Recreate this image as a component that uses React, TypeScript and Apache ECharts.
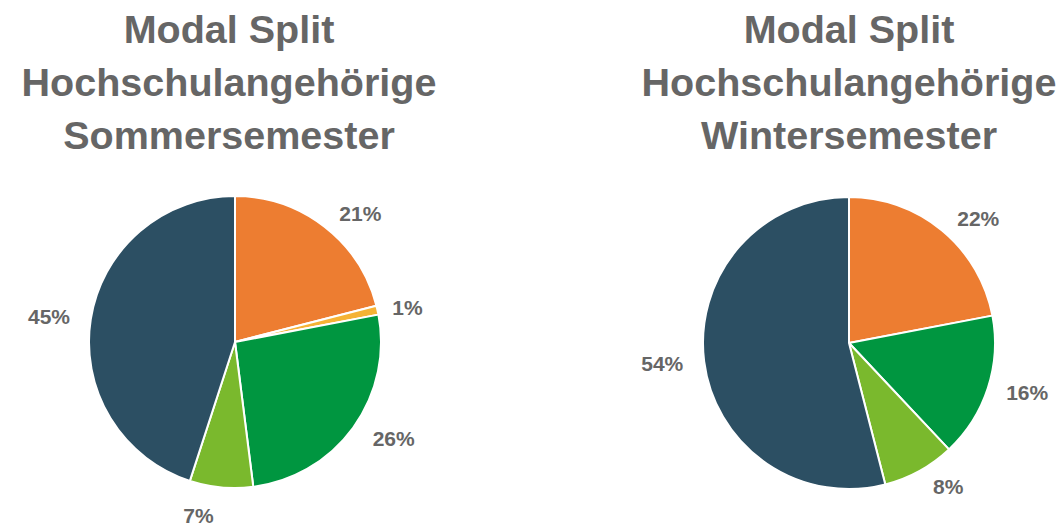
import React, { useEffect, useRef } from "react";
import * as echarts from "echarts";

const categoriesSummer = ["Rad", "Sonstiges", "ÖPNV", "Zu Fuß", "MIV"];
const valuesSummer = [21, 1, 26, 7, 45];
const categoriesWinter = ["Rad", "ÖPNV", "Zu Fuß", "MIV"];
const valuesWinter = [22, 16, 8, 54];
const colorsSummer = ["#ED7D31", "#F5B335", "#009640", "#7AB92D", "#2C4F63"];
const colorsWinter = ["#ED7D31", "#009640", "#7AB92D", "#2C4F63"];
const labelLenSummer = [16, 10, 18, 28, 16];
const labelLenWinter = [16, 14, 18, 16];
const titleSummer = "Modal Split\nHochschulangehörige\nSommersemester";
const titleWinter = "Modal Split\nHochschulangehörige\nWintersemester";

const FONT = "'Liberation Sans', Arial, sans-serif";

export default function App() {
  const ref = useRef<HTMLDivElement>(null);
  useEffect(() => {
    document.body.style.margin = "0";
    const chart = echarts.init(ref.current!, null, { renderer: "svg" });
    const titleStyle = {
      fontSize: 39.5,
      fontWeight: "bold" as const,
      color: "#666666",
      lineHeight: 53,
      fontFamily: FONT,
    };
    const labelCfg = {
      show: true,
      position: "outside" as const,
      formatter: "{c}%",
      fontSize: 21,
      fontWeight: "bold" as const,
      color: "#666666",
      fontFamily: FONT,
    };
    const mk = (cats: string[], vals: number[], cols: string[], lens: number[]) =>
      cats.map((c, i) => ({
        name: c,
        value: vals[i],
        itemStyle: { color: cols[i] },
        labelLine: { show: false, length: lens[i], length2: 0 },
      }));
    chart.setOption({
      animation: false,
      backgroundColor: "#ffffff",
      title: [
        { text: titleSummer, left: 229, top: 2, textAlign: "center", padding: 0, textStyle: titleStyle },
        { text: titleWinter, left: 849, top: 2, textAlign: "center", padding: 0, textStyle: titleStyle },
      ],
      series: [
        {
          type: "pie",
          center: [235, 342],
          radius: 146,
          startAngle: 90,
          clockwise: true,
          avoidLabelOverlap: false,
          itemStyle: { borderColor: "#ffffff", borderWidth: 2 },
          label: labelCfg,
          labelLine: { show: false, length: 16, length2: 0 },
          data: mk(categoriesSummer, valuesSummer, colorsSummer, labelLenSummer),
        },
        {
          type: "pie",
          center: [849, 343],
          radius: 146,
          startAngle: 90,
          clockwise: true,
          avoidLabelOverlap: false,
          itemStyle: { borderColor: "#ffffff", borderWidth: 2 },
          label: labelCfg,
          labelLine: { show: false, length: 16, length2: 0 },
          data: mk(categoriesWinter, valuesWinter, colorsWinter, labelLenWinter),
        },
      ],
    });
    return () => chart.dispose();
  }, []);
  return <div ref={ref} style={{ width: 1062, height: 529 }} />;
}
